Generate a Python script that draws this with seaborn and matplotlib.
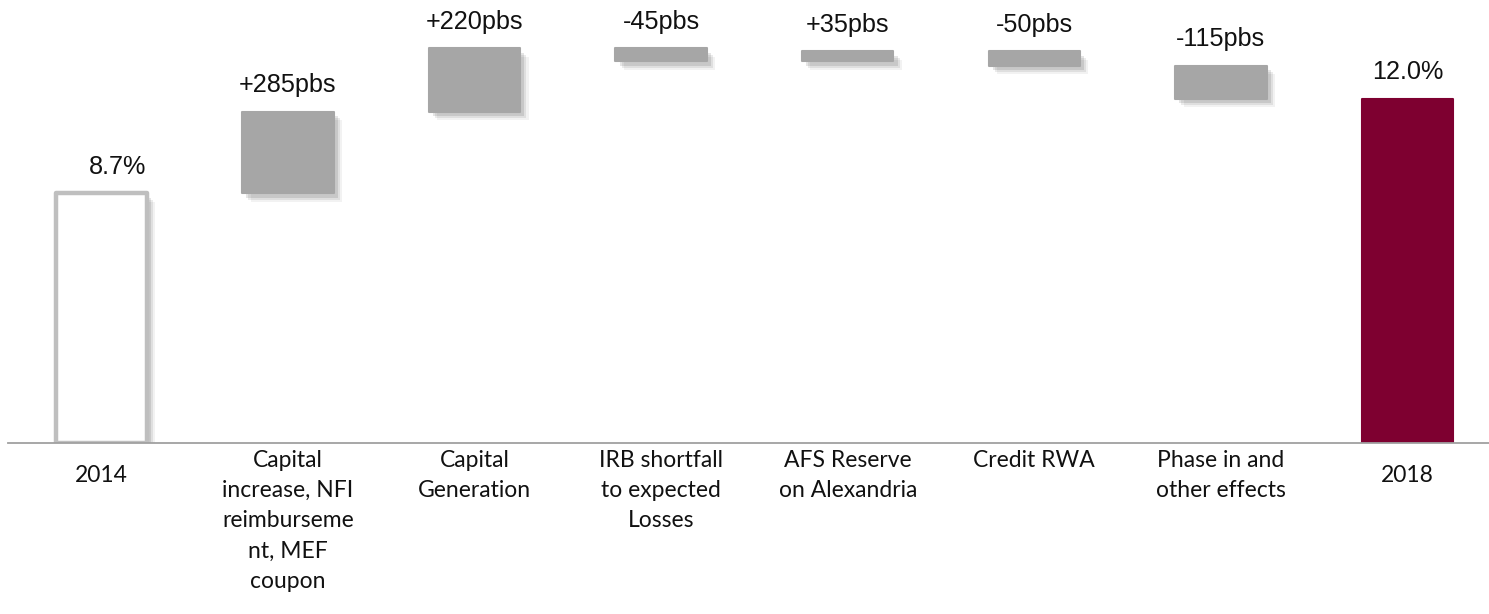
import matplotlib
matplotlib.use("Agg")
import matplotlib.pyplot as plt
import matplotlib.patheffects as pe
import pandas as pd
import seaborn as sns

# Waterfall: CET1 ratio bridge 2014 -> 2018
categories = [
    "2014",
    "Capital\nincrease, NFI\nreimburseme\nnt, MEF\ncoupon",
    "Capital\nGeneration",
    "IRB shortfall\nto expected\nLosses",
    "AFS Reserve\non Alexandria",
    "Credit RWA",
    "Phase in and\nother effects",
    "2018",
]
start_ratio = 8.7          # %
changes_bps = [285, 220, -45, 35, -50, -115]
end_ratio = 12.0           # %
value_labels = ["8.7%", "+285pbs", "+220pbs", "-45pbs", "+35pbs", "-50pbs", "-115pbs", "12.0%"]

# Floating bar geometry from the running total
bottoms, heights = [0.0], [start_ratio]
level = start_ratio
for c in changes_bps:
    d = c / 100.0
    bottoms.append(min(level, level + d))
    heights.append(abs(d))
    level += d
bottoms.append(0.0)
heights.append(end_ratio)

df = pd.DataFrame({"category": categories, "height": heights})

sns.set_style("white")
plt.rcParams["font.family"] = ["Liberation Sans", "DejaVu Sans"]

W, H = 1489, 614
fig = plt.figure(figsize=(W / 100, H / 100), dpi=100)
ax = fig.add_axes([8 / W, 1 - 443 / H, 1481 / W, 443 / H])

sns.barplot(data=df, x="category", y="height", bottom=bottoms, width=0.49,
            color="#A6A6A6", ax=ax, errorbar=None)

GRAY = "#A6A6A6"
RED = "#7E0030"
shadow = [
    pe.SimplePatchShadow(offset=(3, -3), shadow_rgbFace="k", alpha=0.10),
    pe.SimplePatchShadow(offset=(4.5, -4.5), shadow_rgbFace="k", alpha=0.08),
    pe.SimplePatchShadow(offset=(6, -6), shadow_rgbFace="k", alpha=0.05),
    pe.Normal(),
]

bars = ax.patches[:len(categories)]
for i, bar in enumerate(bars):
    bar.set_joinstyle("round")
    if i == 0:
        bar.set_facecolor("white")
        bar.set_edgecolor("#BFBFBF")
        bar.set_linewidth(3.2)
        bar.set_path_effects(shadow)
    elif i == len(categories) - 1:
        bar.set_facecolor(RED)
        bar.set_edgecolor(RED)
        bar.set_linewidth(1.5)
    else:
        bar.set_facecolor(GRAY)
        bar.set_edgecolor(GRAY)
        bar.set_linewidth(1.5)
        bar.set_path_effects(shadow)

for i, (b, h, txt) in enumerate(zip(bottoms, heights, value_labels)):
    dx = 12 if i == 0 else 0
    ax.annotate(txt, xy=(i, b + h), xytext=(dx, 19), textcoords="offset points",
                ha="center", va="center", fontsize=18.2, color="#111111",
                family=["Liberation Sans", "DejaVu Sans"], annotation_clip=False)

ax.set_xlim(-0.5, -0.5 + 1481 / 186.6)
ax.set_ylim(0, 15.44)
ax.set_xlabel("")
ax.set_ylabel("")
ax.set_yticks([])
ax.set_xticks(range(len(categories)))
ax.set_xticklabels(categories, fontsize=16.5, family=["Lato", "DejaVu Sans"],
                   linespacing=1.54, color="#111111")
ax.tick_params(axis="x", length=0, pad=5)
for idx in (0, len(categories) - 1):
    ax.xaxis.get_major_ticks()[idx].set_pad(16)

for side in ("top", "left", "right"):
    ax.spines[side].set_visible(False)
ax.spines["bottom"].set_color("#A0A0A0")
ax.spines["bottom"].set_linewidth(1.3)

fig.savefig("out.png", dpi=100, facecolor="white")
